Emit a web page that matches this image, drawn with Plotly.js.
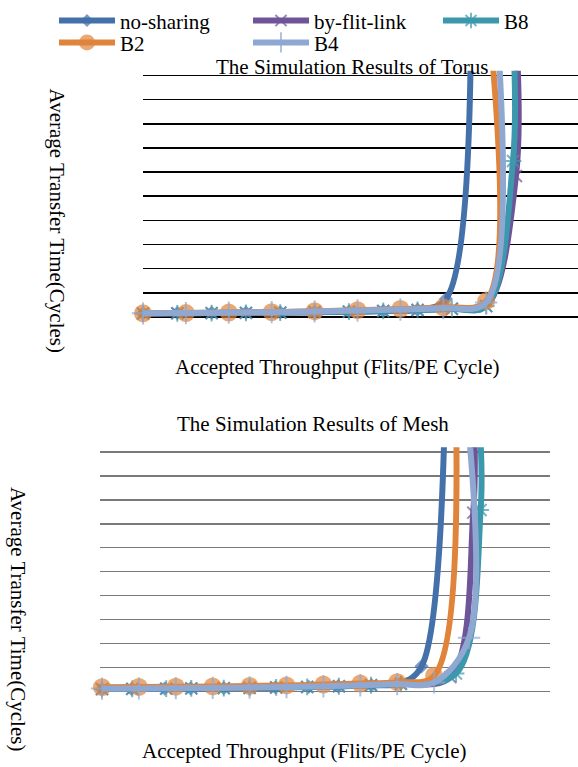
<!DOCTYPE html>
<html>
<head>
<meta charset="utf-8">
<script src="https://cdn.plot.ly/plotly-3.0.1.min.js"></script>
<style>html,body{margin:0;padding:0;background:#fff;}#chart{width:578px;height:767px;}</style>
</head>
<body>
<div id="chart"></div>
<script>
// ---- Series names ----
const seriesNames = ["no-sharing", "by-flit-link", "B8", "B2", "B4"];

// ---- Torus data (accepted throughput, average transfer time) ----
const torusNoSharingX = [0, 0.04, 0.08, 0.12, 0.16, 0.20, 0.24, 0.28, 0.32, 0.353, 0.382];
const torusNoSharingY = [1.5, 1.6, 1.7, 1.8, 1.9, 2.0, 2.2, 2.5, 3.0, 7.4, 110];
const torusFlitLinkX = [0, 0.04, 0.08, 0.12, 0.16, 0.20, 0.24, 0.28, 0.32, 0.36, 0.40, 0.4347, 0.436];
const torusFlitLinkY = [1.4, 1.5, 1.6, 1.7, 1.8, 2.0, 2.2, 2.5, 2.9, 3.4, 4.5, 58.4, 110];
const torusB8X = [0, 0.04, 0.08, 0.12, 0.16, 0.20, 0.24, 0.28, 0.32, 0.36, 0.40, 0.4312, 0.4322];
const torusB8Y = [1.4, 1.5, 1.6, 1.7, 1.8, 2.0, 2.2, 2.5, 2.9, 3.4, 4.5, 64.6, 110];
const torusB2X = [0, 0.05, 0.10, 0.15, 0.20, 0.25, 0.30, 0.35, 0.40, 0.4065];
const torusB2Y = [1.5, 1.6, 1.8, 2.0, 2.4, 2.8, 3.3, 4.0, 6.6, 110];
const torusB4X = [0, 0.05, 0.10, 0.15, 0.20, 0.25, 0.30, 0.35, 0.40, 0.4145];
const torusB4Y = [1.5, 1.6, 1.8, 2.0, 2.3, 2.7, 3.1, 3.7, 6.0, 110];

// ---- Mesh data ----
const meshNoSharingX = [0, 0.04, 0.085, 0.12, 0.165, 0.20, 0.235, 0.28, 0.32, 0.365, 0.405, 0.433, 0.464];
const meshNoSharingY = [1.0, 1.1, 1.2, 1.3, 1.4, 1.5, 1.7, 1.9, 2.2, 2.6, 3.5, 10.5, 110];
const meshFlitLinkX = [0, 0.041, 0.087, 0.121, 0.165, 0.20, 0.236, 0.278, 0.321, 0.3645, 0.405, 0.472, 0.503, 0.5045];
const meshFlitLinkY = [1.0, 1.1, 1.2, 1.3, 1.4, 1.5, 1.7, 1.9, 2.2, 2.6, 3.2, 6.0, 74.7, 110];
const meshB8X = [0, 0.041, 0.087, 0.121, 0.165, 0.20, 0.236, 0.278, 0.321, 0.3645, 0.405, 0.4797, 0.513, 0.512];
const meshB8Y = [1.0, 1.1, 1.2, 1.3, 1.4, 1.5, 1.7, 1.9, 2.2, 2.6, 3.2, 7.5, 75.8, 110];
const meshB2X = [0, 0.05, 0.10, 0.15, 0.20, 0.25, 0.30, 0.35, 0.40, 0.45, 0.480];
const meshB2Y = [1.8, 1.9, 2.0, 2.1, 2.3, 2.5, 2.9, 3.3, 3.9, 6.6, 110];
const meshB4X = [0, 0.05, 0.10, 0.15, 0.20, 0.25, 0.30, 0.35, 0.40, 0.45, 0.4973, 0.4965];
const meshB4Y = [1.2, 1.3, 1.4, 1.5, 1.7, 1.9, 2.2, 2.6, 3.1, 3.8, 22.4, 110];

// ---- Text ----
const torusTitle = "The Simulation Results of Torus";
const meshTitle = "The Simulation Results of Mesh";
const xTitle = "Accepted Throughput (Flits/PE Cycle)";
const yTitle = "Average Transfer Time(Cycles)";

// ---- Styles ----
const FONT = "Liberation Serif";
const colors = ["#4471AA", "#6E5599", "#3C98AC", "#E0843C", "#8FA8D2"];
const symbols = ["diamond", "x-thin-open", "asterisk-open", "circle", "cross-thin-open"];
const mSizes = [11, 12, 14, 18, 16];
const legendIds = ["legend", "legend2", "legend3", "legend4", "legend5"];
const YMAX = 100;

function mk(i, xs, ys, xa, ya, showLegend) {
  const sizes = ys.map(v => (v > YMAX ? 0 : mSizes[i]));
  const filled = symbols[i] === "diamond" || symbols[i] === "circle";
  return {
    type: "scatter", mode: "lines+markers",
    x: xs, y: ys, xaxis: xa, yaxis: ya,
    name: seriesNames[i], showlegend: showLegend, legend: legendIds[i],
    line: {color: colors[i], width: 6, shape: "spline", smoothing: 1},
    marker: {symbol: symbols[i], size: sizes, color: colors[i],
             line: {color: colors[i], width: filled ? 0 : 2}},
    cliponaxis: false, hoverinfo: "skip"
  };
}

const data = [
  mk(0, torusNoSharingX, torusNoSharingY, "x", "y", true),
  mk(1, torusFlitLinkX, torusFlitLinkY, "x", "y", true),
  mk(2, torusB8X, torusB8Y, "x", "y", true),
  mk(3, torusB2X, torusB2Y, "x", "y", true),
  mk(4, torusB4X, torusB4Y, "x", "y", true),
  mk(0, meshNoSharingX, meshNoSharingY, "x2", "y2", false),
  mk(1, meshFlitLinkX, meshFlitLinkY, "x2", "y2", false),
  mk(2, meshB8X, meshB8Y, "x2", "y2", false),
  mk(3, meshB2X, meshB2Y, "x2", "y2", false),
  mk(4, meshB4X, meshB4Y, "x2", "y2", false)
];

const H = 767, W = 578;
const py = p => 1 - p / H;
const px = p => p / W;

const ax = (domain, range) => ({
  domain: domain, range: range, showticklabels: false, ticks: "",
  showgrid: false, zeroline: false, showline: false, fixedrange: true
});
// y: 0..100 spans the gridded area; padded range keeps the end gridlines drawn
const ay = (bottomPx, topPx, color, width) => {
  const pad = 2;
  const k = (bottomPx - topPx) / 100;
  return {
    domain: [py(bottomPx + pad * k), py(topPx - pad * k)], range: [-pad, 100 + pad],
    dtick: 10, tick0: 0, showticklabels: false, ticks: "",
    showgrid: true, gridcolor: color, gridwidth: width,
    zeroline: false, showline: false, fixedrange: true
  };
};

const ann = (text, x, y, angle) => ({
  text: text, x: px(x), y: py(y), xref: "paper", yref: "paper",
  xanchor: "center", yanchor: "middle", showarrow: false, textangle: angle || 0,
  font: {family: FONT, size: 21, color: "#000"}
});

const legendPos = [[54, 16], [248, 16], [438, 16], [54, 38], [248, 38]];
const legendFont = {family: FONT, size: 21, color: "#000"};

const layout = {
  width: W, height: H, margin: {l: 0, r: 0, t: 0, b: 0},
  paper_bgcolor: "#fff", plot_bgcolor: "rgba(0,0,0,0)",
  font: {family: FONT, size: 21, color: "#000"},
  xaxis: ax([px(143), 1], [0, 0.507]),
  yaxis: ay(314, 71, "#000", 1.5),
  xaxis2: Object.assign(ax([px(100), px(550)], [-0.0027, 0.607]), {anchor: "y2"}),
  yaxis2: Object.assign(ay(691, 450, "#7a7a7a", 1.3), {anchor: "x2"}),
  showlegend: true,
  annotations: [
    ann(torusTitle, 352, 62),
    ann(meshTitle, 313, 422),
    ann(xTitle, 337, 364),
    ann(xTitle, 304, 751),
    ann(yTitle, 57, 217, 90),
    ann(yTitle, 18, 618, 90)
  ]
};
legendIds.forEach((id, i) => {
  layout[id] = {
    orientation: "v", x: px(legendPos[i][0]), y: py(legendPos[i][1]),
    xanchor: "left", yanchor: "middle", itemwidth: 56,
    font: legendFont, bgcolor: "rgba(0,0,0,0)", borderwidth: 0
  };
});

Plotly.newPlot("chart", data, layout, {staticPlot: true, displayModeBar: false});
</script>
</body>
</html>
